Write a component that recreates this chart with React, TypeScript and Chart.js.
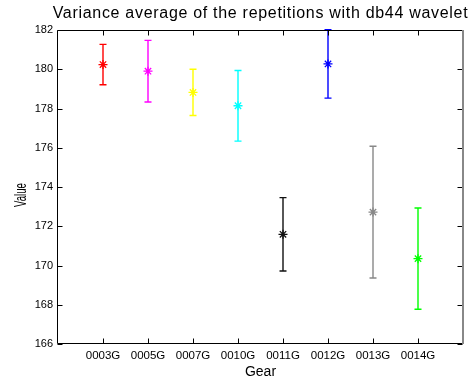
import React, { useEffect, useRef } from 'react';
import { Chart, registerables } from 'chart.js';

Chart.register(...registerables);

const titleText = 'Variance average of the repetitions with db44 wavelet';
const xTitle = 'Gear';
const yTitle = 'Value';
const gears = ['0003G', '0005G', '0007G', '0010G', '0011G', '0012G', '0013G', '0014G'];
const means = [180.24, 179.9, 178.82, 178.14, 171.59, 180.27, 172.72, 170.35];
const errors = [1.03, 1.57, 1.18, 1.8, 1.87, 1.74, 3.36, 2.58];
const colors = ['#ff0000', '#ff00ff', '#ffff00', '#00ffff', '#111111', '#0000ff', '#888888', '#00ff00'];
const yTicks = [166, 168, 170, 172, 174, 176, 178, 180, 182];

const FONT = "'Liberation Sans', Arial, sans-serif";

const errorBarPlugin = {
  id: 'errorBars',
  beforeDatasetsDraw(chart: any) {
    const { ctx, chartArea, scales } = chart;
    const xs = scales.x;
    const ys = scales.y;
    ctx.save();
    ctx.beginPath();
    ctx.rect(chartArea.left, chartArea.top - 1, chartArea.right - chartArea.left, chartArea.bottom - chartArea.top + 1);
    ctx.clip();
    ctx.lineWidth = 1.4;
    means.forEach((m, i) => {
      const x = xs.getPixelForValue(i + 1);
      const yTop = ys.getPixelForValue(m + errors[i]);
      const yBot = ys.getPixelForValue(m - errors[i]);
      ctx.strokeStyle = colors[i];
      ctx.beginPath();
      ctx.moveTo(x, yTop);
      ctx.lineTo(x, yBot);
      ctx.moveTo(x - 3.5, yTop);
      ctx.lineTo(x + 3.5, yTop);
      ctx.moveTo(x - 3.5, yBot);
      ctx.lineTo(x + 3.5, yBot);
      ctx.stroke();
    });
    ctx.restore();
  },
};

const framePlugin = {
  id: 'frame',
  afterDraw(chart: any) {
    const { ctx, chartArea, scales } = chart;
    const { left, right, top, bottom } = chartArea;
    const L = Math.round(left) - 0.5;
    const R = Math.round(right) - 0.5;
    const T = Math.round(top) + 0.5;
    const B = Math.round(bottom) - 0.5;
    ctx.save();
    ctx.strokeStyle = '#000';
    ctx.lineWidth = 1;
    ctx.beginPath();
    ctx.moveTo(L, T);
    ctx.lineTo(R, T);
    ctx.moveTo(L, T);
    ctx.lineTo(L, B);
    ctx.lineTo(R, B);
    gears.forEach((_, i) => {
      const x = Math.round(scales.x.getPixelForValue(i + 1)) + 0.5;
      ctx.moveTo(x, B);
      ctx.lineTo(x, B - 5);
      ctx.moveTo(x, T);
      ctx.lineTo(x, T + 5);
    });
    yTicks.forEach((v) => {
      const y = Math.round(scales.y.getPixelForValue(v)) + 0.5;
      ctx.moveTo(L, y);
      ctx.lineTo(L + 5, y);
      ctx.moveTo(R, y);
      ctx.lineTo(R - 5, y);
    });
    ctx.stroke();
    ctx.strokeStyle = '#888888';
    ctx.lineWidth = 2;
    ctx.beginPath();
    ctx.moveTo(R + 0.5, T - 0.5);
    ctx.lineTo(R + 0.5, B + 0.5);
    ctx.stroke();
    ctx.fillStyle = '#000';
    ctx.font = `16px ${FONT}`;
    (ctx as any).letterSpacing = '0.7px';
    ctx.textAlign = 'center';
    ctx.textBaseline = 'alphabetic';
    ctx.fillText(titleText, (left + right) / 2, 18);
    (ctx as any).letterSpacing = '0px';
    // y axis title (rotated, condensed like the reference rendering)
    ctx.translate(26, 195);
    ctx.rotate(-Math.PI / 2);
    ctx.scale(0.6, 1);
    ctx.font = `16px ${FONT}`;
    ctx.textAlign = 'center';
    ctx.textBaseline = 'alphabetic';
    ctx.fillText(yTitle, 0, 0);
    ctx.restore();
  },
};

export default function App() {
  const ref = useRef<HTMLCanvasElement | null>(null);
  useEffect(() => {
    if (!ref.current) return;
    const chart = new Chart(ref.current, {
      type: 'scatter',
      data: {
        datasets: [
          {
            data: means.map((m, i) => ({ x: i + 1, y: m })),
            pointStyle: 'star',
            pointRadius: 4.5,
            pointBorderWidth: 1.3,
            pointBorderColor: colors,
            pointBackgroundColor: colors,
            showLine: false,
          },
        ],
      },
      options: {
        responsive: false,
        animation: false,
        layout: { padding: { top: 30, right: 9, left: 0, bottom: 0 } },
        plugins: {
          legend: { display: false },
          tooltip: { enabled: false },
          title: { display: false },
        },
        scales: {
          x: {
            type: 'linear',
            min: 0,
            max: 9,
            grid: { display: false, drawTicks: false },
            border: { display: false },
            afterBuildTicks: (s: any) => {
              s.ticks = gears.map((_, i) => ({ value: i + 1 }));
            },
            afterFit: (s: any) => {
              s.height = 39;
            },
            ticks: {
              autoSkip: false,
              maxRotation: 0,
              padding: 5,
              color: '#000',
              font: { family: FONT, size: 11.5 },
              callback: (v: any) => gears[Number(v) - 1] ?? '',
            },
            title: {
              display: true,
              text: xTitle,
              color: '#000',
              font: { family: FONT, size: 14 },
              padding: { top: 0, bottom: 2 },
            },
          },
          y: {
            type: 'linear',
            min: 166,
            max: 182,
            grid: { display: false, drawTicks: false },
            border: { display: false },
            afterBuildTicks: (s: any) => {
              s.ticks = yTicks.map((v) => ({ value: v }));
            },
            afterFit: (s: any) => {
              s.width = 58;
            },
            ticks: {
              padding: 5,
              color: '#000',
              font: { family: FONT, size: 11 },
            },
            title: { display: false, text: yTitle },
          },
        },
      },
      plugins: [errorBarPlugin, framePlugin],
    } as any);
    return () => chart.destroy();
  }, []);
  return (
    <div style={{ position: 'fixed', left: 0, top: 0, width: 472, height: 383, background: '#fff' }}>
      <canvas ref={ref} width={472} height={383} style={{ display: 'block' }} />
    </div>
  );
}
